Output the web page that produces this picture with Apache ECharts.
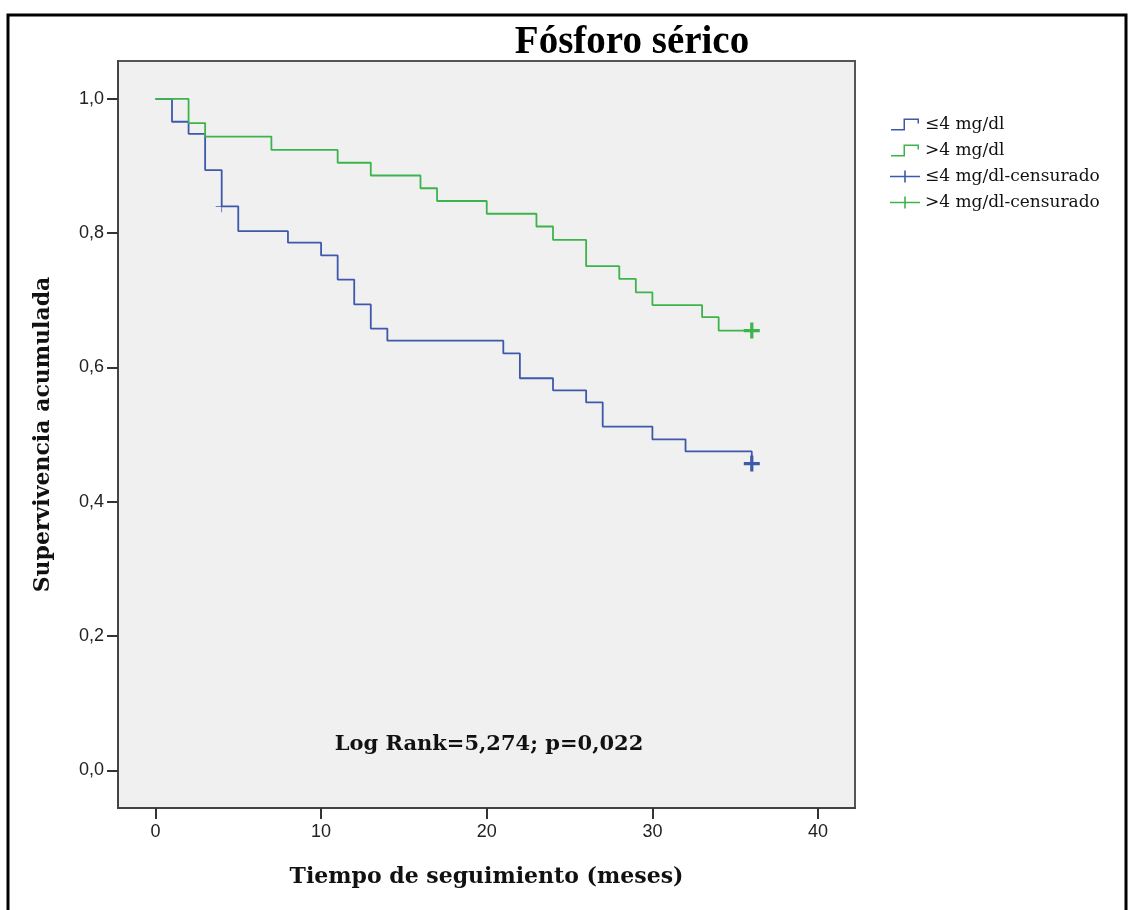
<!DOCTYPE html>
<html>
<head>
<meta charset="utf-8">
<title>Fósforo sérico</title>
<script src="https://cdn.jsdelivr.net/npm/echarts@6/dist/echarts.min.js"></script>
<style>
    html, body { margin: 0; padding: 0; background: #fff; }
    #chart { width: 1131px; height: 910px; }
</style>
</head>
<body>
<div id="chart"></div>
<script>
    // grupo ≤4 mg/dl : tiempos de evento y supervivencia acumulada
    const lowTimes = [0, 1, 2, 3, 4, 5, 8, 10, 11, 12, 13, 14, 21, 22, 24, 26, 27, 30, 32, 36];
    const lowSurv = [1, 0.966, 0.948, 0.894, 0.840, 0.803, 0.786, 0.767, 0.731, 0.694, 0.658, 0.640,
        0.621, 0.584, 0.566, 0.548, 0.512, 0.493, 0.475, 0.457];
    // grupo >4 mg/dl
    const highTimes = [0, 2, 3, 7, 11, 13, 16, 17, 20, 23, 24, 26, 28, 29, 30, 33, 34, 36];
    const highSurv = [1, 0.964, 0.944, 0.924, 0.905, 0.886, 0.867, 0.848, 0.829, 0.810, 0.790, 0.751,
        0.732, 0.712, 0.693, 0.675, 0.655, 0.655];
    // casos censurados (tiempo, supervivencia, nº de casos)
    const lowCensTimes = [4, 36];
    const lowCensSurv = [0.840, 0.457];
    const lowCensN = [1, 3];
    const highCensTimes = [36];
    const highCensSurv = [0.655];
    const highCensN = [3];

    const xTicks = [0, 10, 20, 30, 40];
    const yTicks = [0, 0.2, 0.4, 0.6, 0.8, 1.0];

    const names = ['≤4 mg/dl', '>4 mg/dl', '≤4 mg/dl-censurado', '>4 mg/dl-censurado'];
    const BLUE = '#3e58ac';
    const GREEN = '#3cb44b';

    const stepIcon = 'path://M0,10.5 L12.5,10.5 L12.5,0 L28,0 L28,5 L26.5,5 L26.5,1.5 L14,1.5 L14,12 L0,12 Z';
    const plusIcon = 'path://M0,5.2 L14.2,5.2 L14.2,0 L15.8,0 L15.8,5.2 L30,5.2 L30,6.8 L15.8,6.8 L15.8,12 L14.2,12 L14.2,6.8 L0,6.8 Z';
    const plusThin = 'path://M0,9.4 L9.4,9.4 L9.4,0 L10.6,0 L10.6,9.4 L20,9.4 L20,10.6 L10.6,10.6 L10.6,20 L9.4,20 L9.4,10.6 L0,10.6 Z';
    const plusThick = 'path://M0,8 L8,8 L8,0 L12,0 L12,8 L20,8 L20,12 L12,12 L12,20 L8,20 L8,12 L0,12 Z';

    function zip(a, b) {
        return a.map((v, i) => [v, b[i]]);
    }

    function censData(t, s, n) {
        return t.map((v, i) => ({
            value: [v, s[i]],
            symbol: n[i] > 1 ? plusThick : plusThin,
            symbolSize: n[i] > 1 ? 16 : 12
        }));
    }

    const serifBold = "'DejaVu Serif', serif";
    const tickFont = "'Liberation Sans Narrow', 'Liberation Sans', Arial, sans-serif";

    const chart = echarts.init(document.getElementById('chart'));
    chart.setOption({
        animation: false,
        backgroundColor: '#ffffff',
        title: [{
            text: 'Fósforo sérico',
            left: 627,
            top: 18,
            textAlign: 'center',
            textStyle: {fontFamily: "'Liberation Serif', serif", fontWeight: 'bold', fontSize: 39, color: '#000'}
        }, {
            text: 'Log Rank=5,274; p=0,022',
            left: 484,
            top: 729,
            textAlign: 'center',
            textStyle: {fontFamily: serifBold, fontWeight: 'bold', fontSize: 21, color: '#111'}
        }],
        legend: {
            orient: 'vertical',
            left: 885,
            top: 111,
            itemWidth: 30,
            itemHeight: 12,
            itemGap: 9,
            textStyle: {fontFamily: "'DejaVu Serif', serif", fontSize: 17, color: '#111'},
            data: [
                {name: names[0], icon: stepIcon},
                {name: names[1], icon: stepIcon},
                {name: names[2], icon: plusIcon},
                {name: names[3], icon: plusIcon}
            ]
        },
        grid: {
            left: 118,
            right: 276,
            top: 61,
            bottom: 102,
            show: true,
            backgroundColor: '#f0f0f0',
            borderColor: '#555',
            borderWidth: 2
        },
        xAxis: {
            type: 'value',
            min: -2.26,
            max: 42.23,
            name: 'Tiempo de seguimiento (meses)',
            nameLocation: 'middle',
            nameGap: 58,
            nameTextStyle: {fontFamily: serifBold, fontWeight: 'bold', fontSize: 22, color: '#111'},
            axisLine: {show: true, onZero: false, lineStyle: {color: '#444', width: 2}},
            axisTick: {show: true, customValues: xTicks, length: 11, lineStyle: {color: '#333', width: 2}},
            axisLabel: {customValues: xTicks, margin: 15, fontFamily: tickFont, fontSize: 18, color: '#222'},
            splitLine: {show: false}
        },
        yAxis: {
            type: 'value',
            min: -0.056,
            max: 1.0565,
            name: 'Supervivencia acumulada',
            nameLocation: 'middle',
            nameGap: 64,
            nameTextStyle: {fontFamily: serifBold, fontWeight: 'bold', fontSize: 22, color: '#111'},
            axisLine: {show: true, onZero: false, lineStyle: {color: '#444', width: 2}},
            axisTick: {show: true, customValues: yTicks, length: 11, lineStyle: {color: '#333', width: 2}},
            axisLabel: {
                customValues: yTicks, margin: 14, fontFamily: tickFont, fontSize: 18, color: '#222',
                formatter: v => v.toFixed(1).replace('.', ',')
            },
            splitLine: {show: false}
        },
        series: [{
            name: names[0],
            type: 'line',
            step: 'end',
            showSymbol: false,
            data: zip(lowTimes, lowSurv),
            itemStyle: {color: BLUE},
            lineStyle: {color: BLUE, width: 1.8}
        }, {
            name: names[1],
            type: 'line',
            step: 'end',
            showSymbol: false,
            data: zip(highTimes, highSurv),
            itemStyle: {color: GREEN},
            lineStyle: {color: GREEN, width: 1.8}
        }, {
            name: names[2],
            type: 'scatter',
            data: censData(lowCensTimes, lowCensSurv, lowCensN),
            itemStyle: {color: BLUE, opacity: 1}
        }, {
            name: names[3],
            type: 'scatter',
            data: censData(highCensTimes, highCensSurv, highCensN),
            itemStyle: {color: GREEN, opacity: 1}
        }],
        graphic: [{
            type: 'rect',
            shape: {x: 8, y: 15, width: 1118, height: 910},
            style: {fill: null, stroke: '#000', lineWidth: 3},
            silent: true
        }]
    });
</script>
</body>
</html>
